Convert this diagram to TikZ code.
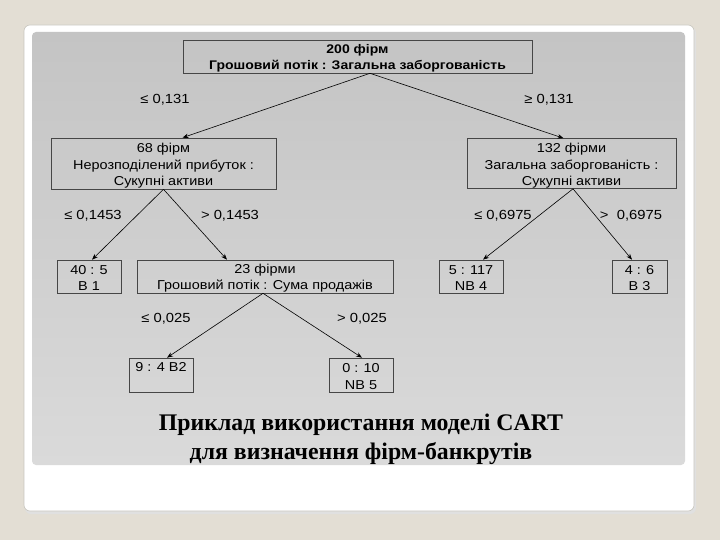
\documentclass[tikz,border=0pt]{standalone}
\usepackage{fontspec}
\setmainfont{Liberation Sans}
\newfontfamily\arialf[FakeStretch=1.12]{Liberation Sans}
\newfontfamily\timesf{Liberation Serif}
\usetikzlibrary{arrows.meta,calc}
\definecolor{bgbeige}{RGB}{227,222,212}
\definecolor{paneltop}{RGB}{196,196,196}
\definecolor{panelbot}{RGB}{218,218,218}
\definecolor{cardedge}{RGB}{200,198,190}
\definecolor{boxedge}{RGB}{70,70,70}
\tikzset{
  treebox/.style={draw=boxedge, line width=0.6pt, inner sep=0pt},
  boxtext/.style={inner sep=0pt, align=center, font=\arialf\fontsize{12.9}{16.5}\selectfont},
  roottext/.style={boxtext, font=\arialf\bfseries\fontsize{12.5}{16}\selectfont},
  cond/.style={font=\arialf\fontsize{13.2}{15}\selectfont, inner sep=0pt},
  conn/.style={line width=0.6pt, -{Stealth[length=6pt,width=4.5pt]}},
  titletext/.style={font=\timesf\bfseries\fontsize{23.8}{29}\selectfont, align=center, inner sep=0pt}
}
\begin{document}
\begin{tikzpicture}[x=1pt,y=-1pt]
\fill[bgbeige] (0,0) rectangle (720,540);
\useasboundingbox (0,0) rectangle (720,540);
% card
\fill[black!12, rounded corners=6pt] (25,27) rectangle (696,514);
\filldraw[fill=white, draw=cardedge, line width=0.6pt, rounded corners=6pt] (24,25) rectangle (694,511);
\shade[top color=paneltop, bottom color=panelbot, rounded corners=4pt] (32,32) rectangle (685,465);

% boxes
\node[treebox, minimum width=349pt, minimum height=33pt] (root) at (357.5,56.5) {};
\node[treebox, minimum width=225pt, minimum height=51pt] (n68) at (163.5,163.5) {};
\node[treebox, minimum width=209pt, minimum height=50pt] (n132) at (571.5,163.5) {};
\node[treebox, minimum width=64pt, minimum height=33pt] (b1) at (89,276.5) {};
\node[treebox, minimum width=256pt, minimum height=33pt] (n23) at (265,276.5) {};
\node[treebox, minimum width=64pt, minimum height=33pt] (nb4) at (471,276.5) {};
\node[treebox, minimum width=55pt, minimum height=33pt] (b3) at (639.5,276.5) {};
\node[treebox, minimum width=64pt, minimum height=34pt] (b2) at (161,375) {};
\node[treebox, minimum width=64pt, minimum height=34pt] (nb5) at (361,375) {};

% box texts
\node[roottext] (roott) at ([yshift=-2pt]root.center) {200 фірм\\Грошовий потік : Загальна заборгованість};
\node[boxtext] (n68t) at ([yshift=-2.5pt]n68.center) {68 фірм\\Нерозподілений прибуток :\\Сукупні активи};
\node[boxtext] (n132t) at ([yshift=-2.5pt]n132.center) {132 фірми\\Загальна заборгованість :\\Сукупні активи};
\node[boxtext] (b1t) at ([yshift=-1.5pt]b1.center) {40 : 5\\B 1};
\node[boxtext] (n23t) at ([yshift=-1.5pt]n23.center) {23 фірми\\Грошовий потік : Сума продажів};
\node[boxtext] (nb4t) at ([yshift=-1.5pt]nb4.center) {5 : 117\\NB 4};
\node[boxtext] (b3t) at ([yshift=-1.5pt]b3.center) {4 : 6\\B 3};
\node[boxtext, anchor=base] (b2t) at ([yshift=-14pt]b2.north) {9 : 4 B2};
\node[boxtext] (nb5t) at ([yshift=-1.5pt]nb5.center) {0 : 10\\NB 5};

% split points
\coordinate (sroot) at ($(root.south)+(12.5,0)$);

% connectors
\draw[conn] (sroot) -- ([xshift=19pt]n68.north);
\draw[conn] (sroot) -- ([xshift=-8pt]n132.north);
\draw[conn] (n68.south) -- ([xshift=3pt]b1.north);
\draw[conn] (n68.south) -- ([xshift=-38pt]n23.north);
\draw[conn] ([xshift=1.5pt]n132.south) -- ([xshift=12pt]nb4.north);
\draw[conn] ([xshift=1.5pt]n132.south) -- ([xshift=-7.5pt]b3.north);
\draw[conn] ([xshift=-2pt]n23.south) -- ([xshift=6pt]b2.north);
\draw[conn] ([xshift=-2pt]n23.south) -- ([xshift=1pt]nb5.north);

% conditions
\node[cond] (c1) at (165,99.5) {≤ 0,131};
\node[cond] (c2) at (549,99.5) {≥ 0,131};
\node[cond] (c3) at (93,215.5) {≤ 0,1453};
\node[cond] (c4) at (230,215.5) {> 0,1453};
\node[cond] (c5) at (503,215.5) {≤ 0,6975};
\node[cond] (c6) at (631,215.5) {>\ \ 0,6975};
\node[cond] (c7) at (166,318.5) {≤ 0,025};
\node[cond] (c8) at (362,318.5) {> 0,025};

% title
\node[titletext] (title) at (361,439) {Приклад використання моделі CART\\для визначення фірм-банкрутів};
\end{tikzpicture}
\end{document}
